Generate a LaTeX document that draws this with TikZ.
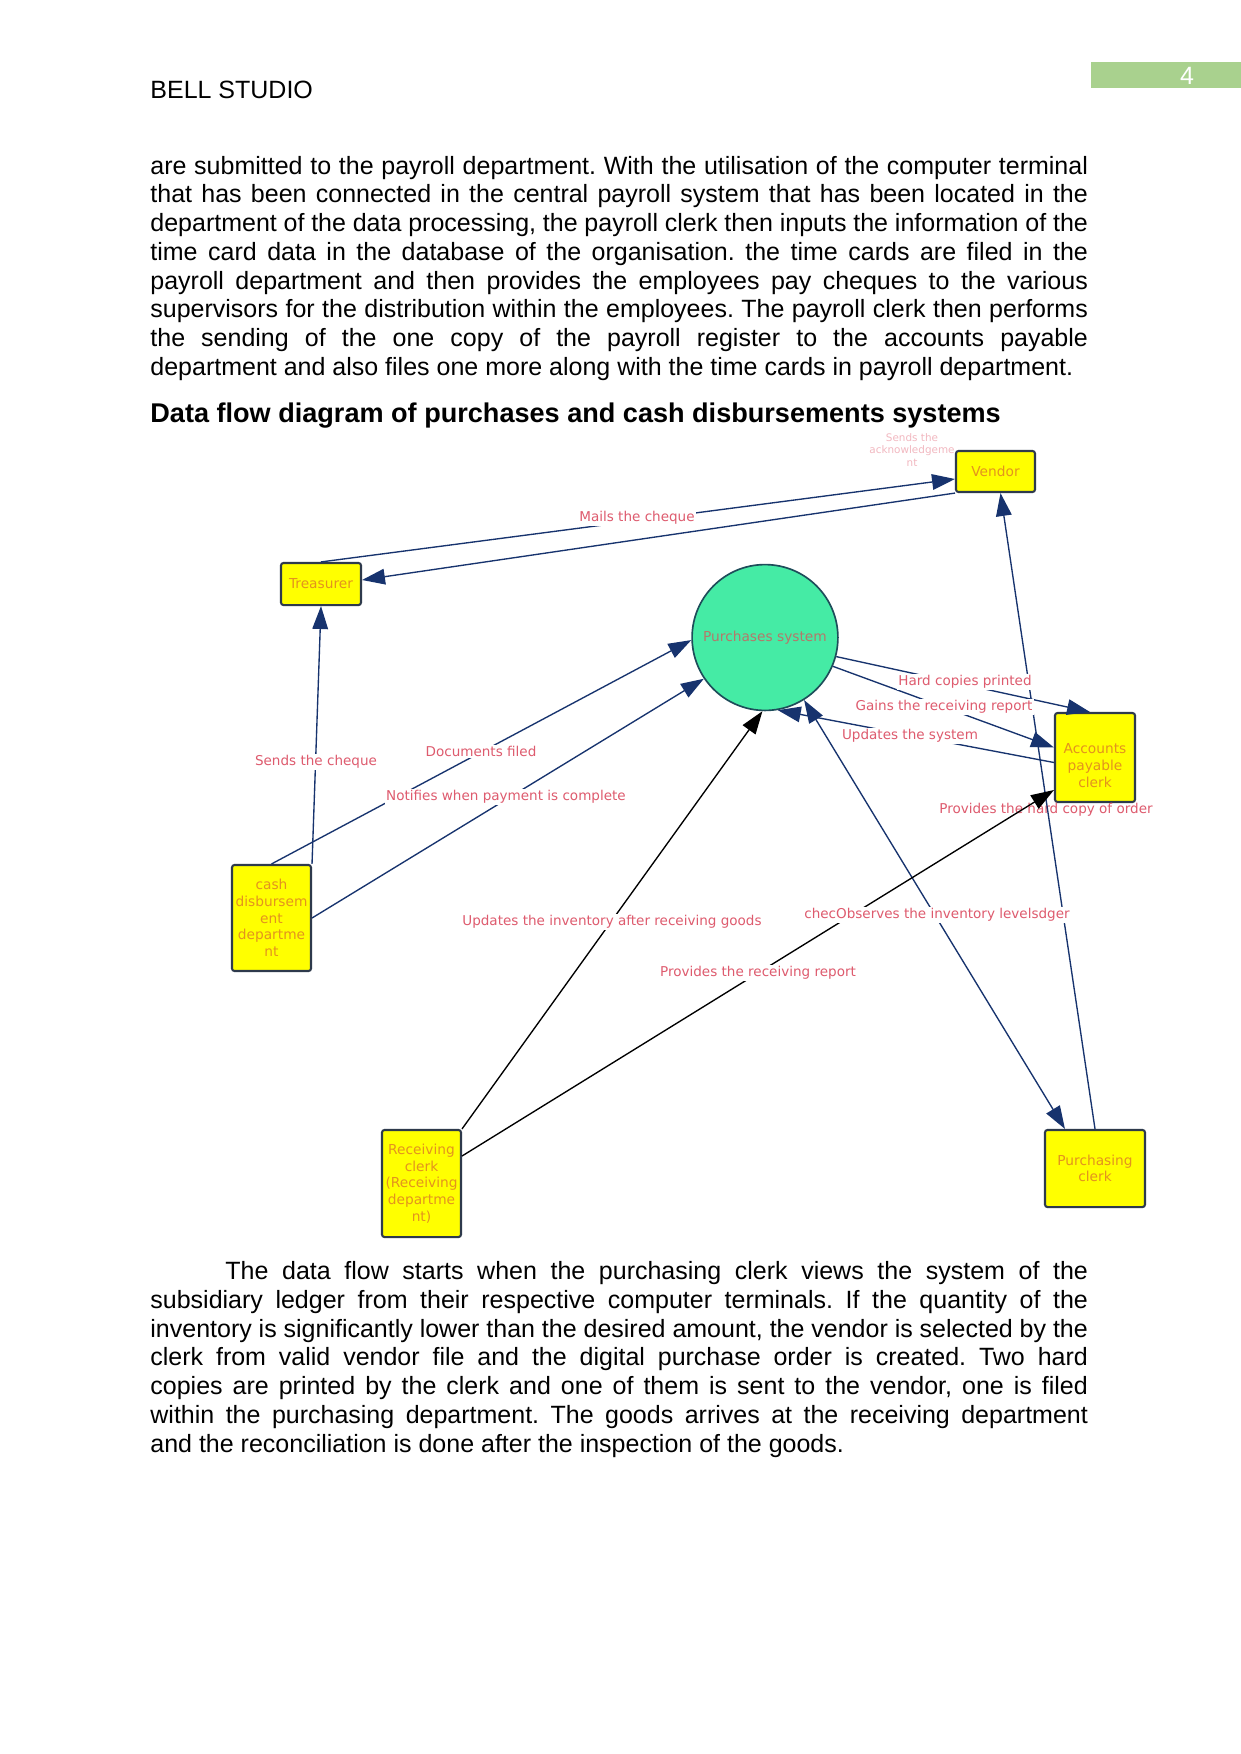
\documentclass[tikz,border=0pt]{standalone}
\usepackage{fontspec}
\setmainfont{Liberation Sans}
\newfontfamily\djv{DejaVu Sans}
\usetikzlibrary{arrows.meta,calc}
\frenchspacing
\definecolor{navy}{HTML}{17336E}
\definecolor{boxline}{HTML}{2E3A4C}
\definecolor{boxfill}{HTML}{FFFF00}
\definecolor{nodetext}{HTML}{E3931E}
\definecolor{labtext}{HTML}{DE5B6E}
\definecolor{circfill}{HTML}{45EBA5}
\definecolor{circline}{HTML}{1E4D5A}
\definecolor{circtext}{HTML}{B4786A}
\definecolor{acktext}{HTML}{F2B8C0}
\definecolor{pagegreen}{HTML}{A9D18E}
\newcommand\jline[1]{\makebox[450pt][s]{\strut #1}}
\newcommand\lastline[1]{\makebox[450pt][l]{\strut #1}}
\tikzset{
 box/.style={draw=boxline, fill=boxfill, line width=1pt, rounded corners=1.2pt, text=nodetext,
   font=\djv\fontsize{6.6}{8}\selectfont, align=center, inner sep=1pt},
 boxtext/.style={text=nodetext, font=\djv\fontsize{6.6}{8}\selectfont, align=center, inner sep=1pt},
 lab/.style={text=labtext, font=\djv\fontsize{6.5}{8}\selectfont, fill=white, inner sep=0.6pt},
 flow/.style={draw=navy, line width=0.65pt, -{Triangle[length=11pt,width=7.5pt]}},
 bflow/.style={draw=black, line width=0.65pt, -{Triangle[length=11pt,width=7.5pt]}},
 body/.style={anchor=north west, inner sep=0, align=left, font=\fontsize{12}{13.8}\selectfont},
}
\begin{document}
\begin{tikzpicture}[x=0.48pt,y=-0.48pt]
\useasboundingbox[fill=white] (0,0) rectangle (1241,1754);
% header
\fill[pagegreen] (1091,62) rectangle (1241,88);
\node[text=white, font=\fontsize{12}{14}\selectfont, anchor=base, inner sep=0] (pnum) at (1187,84) {4};
\node[anchor=base west, inner sep=0, font=\fontsize{12}{13.8}\selectfont] (hdr) at (150,98) {BELL STUDIO};
% paragraph 1
\node[body] (para1) at (150,153.5) {%
\jline{are submitted to the payroll department. With the utilisation of the computer terminal}\\
\jline{that has been connected in the central payroll system that has been located in the}\\
\jline{department of the data processing, the payroll clerk then inputs the information of the}\\
\jline{time card data in the database of the organisation. the time cards are filed in the}\\
\jline{payroll department and then provides the employees pay cheques to the various}\\
\jline{supervisors for the distribution within the employees. The payroll clerk then performs}\\
\jline{the sending of the one copy of the payroll register to the accounts payable}\\
\lastline{department and also files one more along with the time cards in payroll department.}};
\node[anchor=base west, inner sep=0, font=\bfseries\fontsize{13}{15}\selectfont] (title) at (150,422.5)
 {Data flow diagram of purchases and cash disbursements systems};
% faint label
\node[text=acktext, font=\djv\fontsize{5}{6.2}\selectfont, align=center, inner sep=0] (ack) at (912,450)
 {Sends the\\acknowledgeme\\nt};
% nodes
\node[box, minimum width=37.9pt, minimum height=19.7pt] (vendor) at (995.5,471.5) {Vendor};
\node[box, minimum width=38.4pt, minimum height=20.2pt] (treasurer) at (321,584) {Treasurer};
\node[circle, draw=circline, fill=circfill, line width=0.8pt, minimum size=70pt, inner sep=0,
  text=circtext, font=\djv\fontsize{6.6}{8}\selectfont] (ps) at (765,637.5) {Purchases system};
\node[box, minimum width=38.4pt, minimum height=42.7pt] (ap) at (1095,757.5) {};
\node[boxtext] (aptext) at ($(ap.center)+(0,8)$) {Accounts\\payable\\clerk};
\node[box, minimum width=37.9pt, minimum height=50.9pt] (cash) at (271.5,918) {cash\\disbursem\\ent\\departme\\nt};
\node[box, minimum width=37.9pt, minimum height=51.4pt] (recv) at (421.5,1183.5) {Receiving\\clerk\\(Receiving\\departme\\nt)};
\node[box, minimum width=48pt, minimum height=37pt] (purch) at (1095,1168.5) {Purchasing\\clerk};
% label without background
\node[lab, fill=none] (lhc) at (1046,810) {Provides the hard copy of order};
% connectors
\draw[flow] (treasurer.north) -- ($(vendor.west)+(0,7.5)$);
\draw[flow] (vendor.south west) -- ($(treasurer.east)+(0,-4)$);
\draw[flow] (purch.north) -- ($(vendor.south)+(5,0)$);
\draw[flow] (ps.-15) -- ($(ap.north)+(-5,0)$);
\draw[flow] (ps.-23) -- ($(ap.west)+(0,-10)$);
\draw[flow] ($(ap.west)+(0,5)$) -- (ps.-80);
\draw[flow, {Triangle[length=11pt,width=7.5pt]}-{Triangle[length=11pt,width=7.5pt]}] ($(purch.north west)+(21,0)$) -- (ps.-58);
\draw[bflow] (recv.north east) -- (ps.-92);
\draw[bflow] ($(recv.east)+(0,-27.5)$) -- ($(ap.west)+(0,32.5)$);
\draw[flow] (cash.north east) -- (treasurer.south);
\draw[flow] (cash.north) -- (ps.182);
\draw[flow] (cash.east) -- (ps.214);
% labels
\node[lab] (lmc) at (637,518) {Mails the cheque};
\node[lab] (lsc) at (316,762) {Sends the cheque};
\node[lab] (ldf) at (481,751) {Documents filed};
\node[lab] (lnp) at (506,797) {Notifies when payment is complete};
\node[lab] (lui) at (612,922) {Updates the inventory after receiving goods};
\node[lab] (lpr) at (758,973) {Provides the receiving report};
\node[lab] (lco) at (937,915) {checObserves the inventory levelsdger};
\node[lab] (lhp) at (965,682) {Hard copies printed};
\node[lab] (lgr) at (944,707) {Gains the receiving report};
\node[lab] (lus) at (910,736) {Updates the system};
% paragraph 2
\node[body] (para2) at (150,1259) {%
\jline{\hspace*{36pt}The data flow starts when the purchasing clerk views the system of the}\\
\jline{subsidiary ledger from their respective computer terminals. If the quantity of the}\\
\jline{inventory is significantly lower than the desired amount, the vendor is selected by the}\\
\jline{clerk from valid vendor file and the digital purchase order is created. Two hard}\\
\jline{copies are printed by the clerk and one of them is sent to the vendor, one is filed}\\
\jline{within the purchasing department. The goods arrives at the receiving department}\\
\lastline{and the reconciliation is done after the inspection of the goods.}};
\end{tikzpicture}
\end{document}
